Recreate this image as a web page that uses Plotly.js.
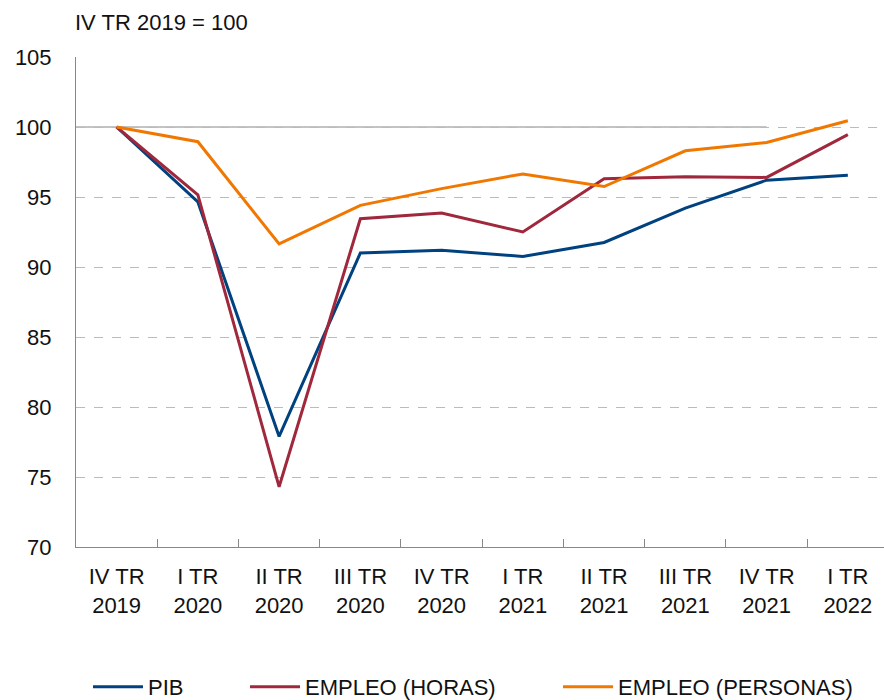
<!DOCTYPE html>
<html>
<head>
<meta charset="utf-8">
<script src="https://cdn.plot.ly/plotly-3.0.1.min.js"></script>
<style>body{margin:0;padding:0;background:#fff}#chart{width:884px;height:700px}</style>
</head>
<body>
<div id="chart"></div>
<script>
const categories = ["IV TR<br>2019","I TR<br>2020","II TR<br>2020","III TR<br>2020","IV TR<br>2020","I TR<br>2021","II TR<br>2021","III TR<br>2021","IV TR<br>2021","I TR<br>2022"];
const pib = [100, 94.65, 77.9, 91.0, 91.2, 90.75, 91.75, 94.2, 96.2, 96.55];
const empleoHoras = [100, 95.15, 74.3, 93.45, 93.85, 92.5, 96.3, 96.45, 96.4, 99.45];
const empleoPersonas = [100, 98.95, 91.65, 94.4, 95.6, 96.65, 95.75, 98.3, 98.9, 100.45];
const seriesNames = ["PIB", "EMPLEO (HORAS)", "EMPLEO (PERSONAS)"];
const seriesColors = ["#00427F", "#A0283C", "#F07800"];

const font = "Liberation Sans, Arial, sans-serif";
const fs = 22;
const legendIds = ["legend", "legend2", "legend3"];
const traces = [pib, empleoHoras, empleoPersonas].map((v, k) => ({
  x: categories, y: v, type: "scatter", mode: "lines", name: seriesNames[k],
  legend: legendIds[k],
  line: {color: seriesColors[k], width: 3}
}));

const legendX = [90, 247, 560];
const mkLegend = (px) => ({
  orientation: "h", xref: "container", yref: "container",
  x: (px - 2) / 884, xanchor: "left", y: 13 / 700, yanchor: "middle",
  font: {family: font, size: fs, color: "#111"}, itemwidth: 50,
  bgcolor: "rgba(0,0,0,0)", borderwidth: 0
});

const layout = {
  width: 884, height: 700,
  margin: {l: 76, r: 0, t: 57, b: 153},
  paper_bgcolor: "#fff", plot_bgcolor: "#fff",
  font: {family: font, size: fs, color: "#111"},
  showlegend: true,
  legend: mkLegend(legendX[0]),
  legend2: mkLegend(legendX[1]),
  legend3: mkLegend(legendX[2]),
  xaxis: {
    type: "category", range: [-0.5, 9.445],
    tickson: "boundaries", ticks: "inside", ticklen: 8, tickcolor: "#888",
    showline: true, linecolor: "#888", linewidth: 1, showgrid: false, zeroline: false,
    ticklabelstandoff: 10,
    tickfont: {family: font, size: fs, color: "#111"}, fixedrange: true, automargin: false
  },
  yaxis: {
    range: [70, 105], dtick: 5, tick0: 70,
    showline: true, linecolor: "#888", linewidth: 1,
    showgrid: true, gridcolor: "#bbb", griddash: "dash", gridwidth: 1,
    zeroline: false, ticks: "", ticklabelstandoff: 19,
    tickfont: {family: font, size: fs, color: "#111"}, fixedrange: true, automargin: false
  },
  shapes: [{type: "line", xref: "x", yref: "y", x0: -0.5, x1: 8, y0: 100, y1: 100,
    line: {color: "#888", width: 1}, layer: "below"}],
  annotations: [{text: "IV TR 2019 = 100", xref: "paper", yref: "paper", x: 0, y: 1.0,
    xanchor: "left", yanchor: "middle", yshift: 35, xshift: -3, showarrow: false,
    font: {family: font, size: fs, color: "#111"}}]
};
Plotly.newPlot("chart", traces, layout, {displayModeBar: false, staticPlot: true});
</script>
</body>
</html>
